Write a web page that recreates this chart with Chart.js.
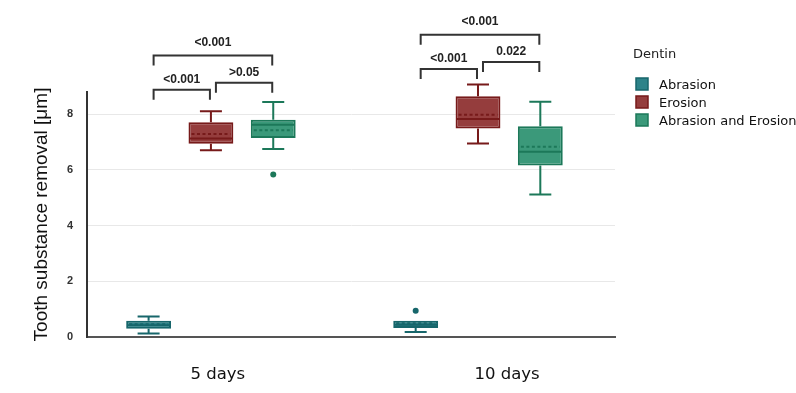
<!DOCTYPE html>
<html>
<head>
<meta charset="utf-8">
<script src="https://cdn.jsdelivr.net/npm/chart.js@4.4.1/dist/chart.umd.min.js"></script>
<style>
    html, body { margin: 0; padding: 0; background: #fff; }
    #wrap { width: 796px; height: 393px; }
</style>
</head>
<body>
<div id="wrap"><canvas id="myChart"></canvas></div>
<script>
// values, in µm
const days = ['5 days', '10 days'];
const yTicks = [0, 2, 4, 6, 8];
const legendTitle = 'Dentin';

// [q1, q3] per day
const abrasionBox = [[0.30, 0.58], [0.32, 0.58]];
const abrasionWhisker = [[0.13, 0.74], [0.18, 0.60]];
const abrasionMedian = [0.42, 0.44];
const abrasionMean = [0.46, 0.49];
const abrasionOutliers = [[], [0.94]];

const erosionBox = [[6.94, 7.71], [7.49, 8.65]];
const erosionWhisker = [[6.71, 8.11], [6.95, 9.07]];
const erosionMedian = [7.13, 7.83];
const erosionMean = [7.29, 7.98];
const erosionOutliers = [[], []];

const bothBox = [[7.15, 7.80], [6.16, 7.57]];
const bothWhisker = [[6.75, 8.44], [5.12, 8.45]];
const bothMedian = [7.62, 6.65];
const bothMean = [7.43, 6.83];
const bothOutliers = [[5.84], []];

// p values: [abrasion-erosion, erosion-both, abrasion-both]
const pValues5 = ['<0.001', '>0.05', '<0.001'];
const pValues10 = ['<0.001', '0.022', '<0.001'];

function makeSet(label, box, whisker, median, mean, outliers, fill, line) {
    return {
        label: label,
        data: box.map((b, i) => ({ x: i + 1, y: b })),
        whisker: whisker,
        median: median,
        mean: mean,
        outliers: outliers,
        backgroundColor: fill,
        borderColor: line,
        borderWidth: 2,
        borderSkipped: false,
        categoryPercentage: 0.7,
        barPercentage: 0.72
    };
}

// fixed axis sizes, no extra padding pushed into the layout
function fixSize(size) {
    return (s) => {
        if (s.isHorizontal()) s.height = size; else s.width = size;
        s.paddingLeft = 0; s.paddingRight = 0;
        s.paddingTop = 0; s.paddingBottom = 0;
    };
}

// whiskers, median, mean, outliers
const boxExtras = {
    id: 'boxExtras',
    afterDatasetsDraw(chart) {
        const ctx = chart.ctx;
        const y = chart.scales.y;
        chart.data.datasets.forEach((ds, di) => {
            const meta = chart.getDatasetMeta(di);
            meta.data.forEach((bar, i) => {
                const p = bar.getProps(['x', 'width'], true);
                const half = p.width / 2;
                const cap = 11;
                const q1 = y.getPixelForValue(ds.data[i].y[0]);
                const q3 = y.getPixelForValue(ds.data[i].y[1]);
                const lo = y.getPixelForValue(ds.whisker[i][0]);
                const hi = y.getPixelForValue(ds.whisker[i][1]);
                ctx.save();
                ctx.strokeStyle = ds.borderColor;
                ctx.lineWidth = 2;
                ctx.beginPath();
                if (hi < q3 - 1) {
                    ctx.moveTo(p.x, q3); ctx.lineTo(p.x, hi);
                    ctx.moveTo(p.x - cap, hi); ctx.lineTo(p.x + cap, hi);
                }
                ctx.moveTo(p.x, q1); ctx.lineTo(p.x, lo);
                ctx.moveTo(p.x - cap, lo); ctx.lineTo(p.x + cap, lo);
                const md = y.getPixelForValue(ds.median[i]);
                ctx.moveTo(p.x - half + 1, md); ctx.lineTo(p.x + half - 1, md);
                ctx.stroke();
                ctx.setLineDash([3, 2.5]);
                ctx.beginPath();
                const mn = y.getPixelForValue(ds.mean[i]);
                ctx.moveTo(p.x - half + 3, mn); ctx.lineTo(p.x + half - 3, mn);
                ctx.stroke();
                ctx.setLineDash([]);
                ctx.fillStyle = ds.borderColor;
                ds.outliers[i].forEach(v => {
                    ctx.beginPath();
                    ctx.arc(p.x, y.getPixelForValue(v), 3, 0, Math.PI * 2);
                    ctx.fill();
                });
                ctx.restore();
            });
        });
    }
};

// significance brackets above the boxes
const brackets = {
    id: 'brackets',
    afterDraw(chart, args, opts) {
        const ctx = chart.ctx;
        const y = chart.scales.y;
        const centers = chart.data.datasets.map((ds, di) =>
            chart.getDatasetMeta(di).data.map(b => b.x));
        const pairs = [[0, 1], [1, 2], [0, 2]];
        [pValues5, pValues10].forEach((pv, day) => {
            pairs.forEach((pr, k) => {
                const x1 = centers[pr[0]][day] + 5;
                const x2 = centers[pr[1]][day] - 1;
                const ly = y.getPixelForValue(opts.levels[day][k]);
                ctx.save();
                ctx.strokeStyle = '#333';
                ctx.lineWidth = 2;
                ctx.beginPath();
                ctx.moveTo(x1, ly + 10); ctx.lineTo(x1, ly);
                ctx.lineTo(x2, ly); ctx.lineTo(x2, ly + 10);
                ctx.stroke();
                ctx.fillStyle = '#222';
                ctx.font = 'bold 12px "Liberation Sans"';
                ctx.textAlign = 'center';
                ctx.textBaseline = 'middle';
                ctx.fillText(pv[k], (x1 + x2) / 2, ly - (k === 2 ? 13 : 10));
                ctx.restore();
            });
        });
    }
};

const sideLegend = {
    id: 'sideLegend',
    afterDraw(chart, args, opts) {
        const ctx = chart.ctx;
        ctx.save();
        ctx.font = '13px "DejaVu Sans"';
        ctx.textBaseline = 'middle';
        ctx.fillStyle = '#222';
        ctx.fillText(legendTitle, opts.x - 3, opts.titleY);
        chart.data.datasets.forEach((ds, i) => {
            const cy = opts.y0 + i * opts.step;
            ctx.fillStyle = ds.backgroundColor;
            ctx.fillRect(opts.x, cy - 6, 12, 12);
            ctx.strokeStyle = ds.borderColor;
            ctx.lineWidth = 1.5;
            ctx.strokeRect(opts.x, cy - 6, 12, 12);
            ctx.fillStyle = '#111';
            ctx.fillText(ds.label, opts.x + 23, cy + 2);
        });
        ctx.restore();
    }
};

const ctx = document.getElementById('myChart');

new Chart(ctx, {
    type: 'bar',
    data: {
        datasets: [
            makeSet('Abrasion', abrasionBox, abrasionWhisker, abrasionMedian, abrasionMean, abrasionOutliers, '#2d8389', '#17666b'),
            makeSet('Erosion', erosionBox, erosionWhisker, erosionMedian, erosionMean, erosionOutliers, '#953d3d', '#771a1a'),
            makeSet('Abrasion and Erosion', bothBox, bothWhisker, bothMedian, bothMean, bothOutliers, '#3b997a', '#1c7859')
        ]
    },
    options: {
        responsive: true,
        maintainAspectRatio: false,
        animation: false,
        layout: { padding: { left: 26, right: 181, top: 92, bottom: 10 } },
        plugins: {
            legend: { display: false },
            tooltip: { enabled: false },
            brackets: {
                levels: [[8.88, 9.13, 10.11], [9.63, 9.88, 10.86]]
            },
            sideLegend: { x: 636, titleY: 55, y0: 84, step: 18 }
        },
        scales: {
            x: {
                type: 'linear',
                offset: false,
                min: 0.536,
                max: 2.513,
                afterBuildTicks: (axis) => {
                    axis.ticks = [{ value: 1.026 }, { value: 2.109 }];
                },
                afterFit: fixSize(46),
                grid: { display: false, drawTicks: false, offset: false },
                border: { display: true, color: '#555', width: 2 },
                ticks: {
                    padding: 28,
                    maxRotation: 0,
                    autoSkip: false,
                    color: '#111',
                    font: { family: 'DejaVu Sans', size: 16.5, lineHeight: 1.2 },
                    callback: (v, i) => days[i]
                }
            },
            y: {
                min: 0,
                max: 8.8,
                afterBuildTicks: (axis) => {
                    axis.ticks = yTicks.map(v => ({ value: v }));
                },
                afterFit: fixSize(61),
                grid: {
                    drawTicks: false,
                    color: (c) => c.tick && c.tick.value === 0 ? 'rgba(0,0,0,0)' : '#e8e8e8'
                },
                border: { display: true, color: '#333', width: 2 },
                ticks: {
                    padding: 14,
                    color: '#333',
                    font: { family: 'Liberation Sans', size: 11, weight: 'bold' }
                },
                title: {
                    display: true,
                    text: 'Tooth substance removal [μm]',
                    color: '#111',
                    font: { family: 'Liberation Sans', size: 19 },
                    padding: { top: 4, bottom: 14 }
                }
            }
        }
    },
    plugins: [boxExtras, brackets, sideLegend]
});
</script>
</body>
</html>
